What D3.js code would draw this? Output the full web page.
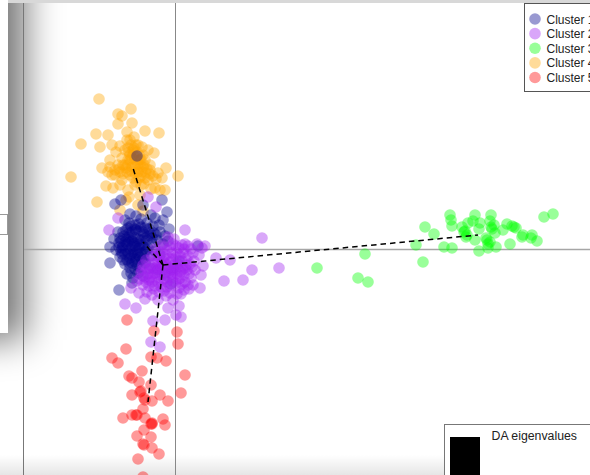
<!DOCTYPE html>
<html>
<head>
<meta charset="utf-8">
<script src="https://cdn.jsdelivr.net/npm/d3@7"></script>
<style>
  html, body { margin: 0; padding: 0; background: #fff; overflow: hidden; }
  text { font-family: "Liberation Sans", Arial, sans-serif; fill: #222; }
</style>
</head>
<body>
<div id="chart"></div>
<script>

// Scores, [ DA1, DA2 ]
var cluster1 = [
  [-6.0,4.5],[-5.4,4.9],[-1.3,4.9],[-0.8,3.7],[-3.2,4.4],[-3.8,9.3],[-6.5,-1.4],[-5.6,-4.1],[-6.5,0.2],
  [-5.0,2.9],[-4.5,3.5],[-4.0,2.4],[-4.7,2.1],[-3.4,3.0],[-2.8,2.6],[-2.0,3.1],[-1.6,2.4],[-5.7,1.7],
  [-6.1,1.0],[-5.6,0.6],[-5.1,1.3],[-4.6,1.6],[-4.1,1.2],[-3.6,1.8],[-3.1,1.5],[-2.6,2.0],[-2.1,1.6],
  [-1.5,1.7],[-1.0,1.3],[-0.6,2.0],[-5.9,-0.1],[-5.3,0.1],[-4.8,0.5],[-4.3,0.2],[-3.8,0.7],[-3.3,0.4],
  [-2.8,0.9],[-2.3,0.6],[-1.8,0.9],[-1.2,0.5],[-0.7,0.8],[-5.5,-0.8],[-5.0,-0.5],[-4.5,-0.9],[-4.0,-0.4],
  [-3.5,-0.8],[-3.0,-0.3],[-2.5,-0.7],[-2.0,-0.2],[-1.5,-0.6],[-5.0,-1.5],[-4.5,-1.9],[-4.0,-1.3],
  [-3.5,-1.8],[-3.0,-1.4],[-2.5,-1.9],[-4.8,-2.5],[-4.2,-2.9],[-3.7,-2.4],[-3.2,-2.7],[-4.3,-3.4],
  [-0.2,-2.0],[-1.0,-2.6],[0.4,-1.2],[-4.6,2.6],[-3.9,3.3],[-2.4,3.4],[-1.2,2.9],[-3.6,0.1],[-4.4,1.0],
  [-3.1,-0.9],[-2.7,0.1],[-5.4,-0.2],[-4.9,1.0],[-3.9,-1.0],[-1.7,-2.1],[-0.4,-3.5],[2.3,0.3],
  [-5.5,1.1],[-5.0,0.7],[-4.7,1.2],[-4.3,0.8],[-4.0,0.3],[-3.7,1.0],[-3.4,0.9],[-3.0,1.1],[-2.7,1.3],
  [-5.2,0.3],[-4.9,-0.1],[-4.5,0.0],[-4.2,-0.3],[-3.8,-0.1],[-3.4,-0.4],[-3.1,0.2],[-2.9,-0.1],
  [-5.2,1.7],[-4.9,1.9],[-4.3,1.7],[-3.9,1.9],[-3.4,2.2],[-3.0,2.1],[-4.6,0.7],[-4.1,0.6],[-3.5,0.5],
  [-4.7,-0.4],[-4.4,-0.6],[-4.1,-0.9],[-3.7,-0.6],[-3.3,-1.1],[-4.8,-1.1],[-4.3,-1.4],[-3.8,-1.6],
  [-5.3,-0.5],[-5.6,0.2],[-5.4,0.8],[-5.2,-1.1],[-4.6,-1.4],[-4.4,-2.4],[-4.0,-2.0],[-2.3,1.1],[-1.9,1.4],
  [-3.2,1.7],[-2.5,1.6],[-4.0,2.0],[-3.6,2.5],[-4.4,2.3],[-2.2,2.3]
];

var cluster2 = [
  [8.7,1.1],[10.4,-1.9],[7.7,-2.1],[6.8,-3.1],[4.9,-3.2],[4.1,-0.9],[5.5,-1.1],[2.7,0.1],[3.0,0.3],[2.8,-1.7],
  [2.5,-3.9],[1.8,-3.6],[-5.0,-5.5],[-3.9,-5.9],[-2.2,-7.2],[-1.0,-7.1],[-0.7,-5.9],[0.4,-5.7],[0.1,-6.6],
  [0.6,-6.8],[-2.4,-9.3],[-1.5,-9.8],[-6.6,1.9],[1.0,1.9],[-2.7,5.2],[-1.9,4.2],[-5.7,3.1],
  [-4.4,-3.9],[-3.6,-4.4],[-3.0,-5.0],[-2.3,-4.6],[-1.7,-5.1],[-0.9,-4.7],[-0.2,-5.1],[0.6,-4.5],[1.4,-4.0],
  [-3.8,-3.2],[-3.2,-3.6],[-2.6,-3.1],[-2.0,-3.7],[-1.4,-3.2],[-0.8,-3.8],[-0.2,-3.3],[0.4,-3.9],[1.0,-3.3],
  [-3.4,-2.4],[-2.8,-2.0],[-2.2,-2.5],[-1.6,-2.0],[-1.0,-2.4],[-0.4,-2.0],[0.2,-2.5],[0.8,-2.0],[1.4,-2.5],
  [2.0,-2.1],[-2.9,-1.1],[-2.3,-0.7],[-1.7,-1.2],[-1.1,-0.8],[-0.5,-1.3],[0.1,-0.8],[0.7,-1.2],[1.3,-0.7],
  [1.9,-1.2],[2.4,-0.6],[-2.0,0.0],[-1.4,0.4],[-0.8,-0.1],[-0.2,0.5],[0.4,0.1],[1.0,0.5],[1.6,0.0],
  [2.2,0.5],[-0.7,1.2],[-0.1,1.0],[-2.5,-1.6],[-1.9,-2.9],[-1.3,-1.6],[-0.7,-2.8],[-0.1,-1.6],[0.5,-2.9],
  [1.1,-1.6],[-2.8,-4.3],[-1.1,-4.2],[0.9,-4.1],[-1.5,-0.3],[-0.3,-0.4],[0.9,0.0],[-3.2,-1.6],[2.6,-2.6],
  [-3.0,-2.8],[-2.7,-2.5],[-2.4,-2.0],[-2.1,-1.4],[-1.8,-1.8],[-1.5,-2.6],[-1.2,-2.1],[-0.9,-1.5],[-0.6,-1.9],
  [-0.3,-2.5],[0.0,-2.1],[0.3,-1.5],[0.6,-1.8],[0.9,-2.6],[1.2,-2.1],[1.5,-1.5],[-2.6,-3.7],[-2.3,-3.3],
  [-2.0,-2.4],[-1.7,-3.3],[-1.4,-3.8],[-1.1,-3.0],[-0.8,-3.3],[-0.5,-3.7],[-0.2,-2.9],[0.1,-3.4],[0.4,-3.0],
  [0.7,-3.5],[-1.9,-0.7],[-1.6,-0.8],[-1.2,-1.2],[-0.9,-0.6],[-0.6,-0.9],[-0.2,-1.0],[0.2,-0.4],[0.5,-0.7],
  [0.8,-0.4],[1.1,-1.0],[-1.1,0.2],[-0.5,0.2],[0.1,0.3],[0.7,0.4],[1.3,0.3],[-1.8,-2.3],[-1.4,-1.5],[-1.0,-1.8],
  [-0.6,-2.4],[-0.2,-2.2],[0.2,-1.9],[0.6,-2.3],[1.0,-1.9],[-2.2,-1.9],[-2.5,-2.9],[-2.9,-3.3],[-3.3,-2.1],
  [-3.5,-3.0],[1.7,-1.8],[1.6,-2.9],[1.3,-3.6],[-1.6,-4.3],[-0.5,-4.4],[0.2,-4.5],[-2.1,-4.0],[1.8,-0.4]
];

var cluster3 = [
  [37.8,3.5],[36.9,3.2],[27.5,3.4],[27.6,2.9],[27.7,2.3],[25.0,2.2],[25.9,1.5],[30.0,3.4],[31.6,3.4],
  [29.8,2.8],[29.3,2.6],[28.7,2.2],[28.9,1.7],[29.1,1.2],[30.5,2.6],[30.4,2.0],[30.0,0.9],[31.5,2.8],
  [31.9,2.4],[31.7,2.0],[32.0,1.6],[32.8,1.9],[33.2,2.5],[33.7,2.3],[34.1,2.1],[34.7,1.2],[35.7,1.4],
  [35.6,1.1],[36.2,0.8],[33.5,0.5],[32.1,0.2],[31.3,0.1],[31.2,0.9],[31.3,0.5],[30.4,-0.2],[27.7,0.1],
  [26.9,0.2],[24.1,0.4],[24.8,-1.3],[19.0,-0.5],[14.2,-1.9],[18.3,-2.9],[19.3,-3.3],
  [31.1,1.1],[31.5,0.7],[29.0,1.8],[29.2,1.4],[31.6,2.2],[33.9,2.2],[34.8,1.4]
];

var cluster4 = [
  [-7.6,15.0],[-4.4,14.0],[-5.7,13.5],[-5.3,13.3],[-5.7,12.5],[-4.3,12.6],[-7.9,11.5],[-6.7,11.4],[-6.3,10.4],
  [-4.8,11.7],[-4.1,11.2],[-3.0,11.8],[-1.6,11.6],[-9.4,10.5],[-7.5,10.2],[-10.4,7.2],[-7.3,8.1],[-6.5,8.9],
  [-5.5,10.3],[-4.5,10.9],[-3.7,10.4],[-3.3,10.2],[-2.7,9.9],[-2.1,9.6],[-6.5,8.2],[-6.7,7.7],[-5.7,8.4],
  [-6.0,7.4],[-5.3,6.9],[-4.5,7.4],[-3.5,8.9],[-2.5,7.9],[-1.7,7.6],[-0.9,8.1],[-1.3,7.1],[0.3,7.3],
  [-6.9,6.3],[-6.2,6.1],[-5.5,6.4],[-4.7,5.9],[-3.7,7.7],[-3.0,7.1],[-2.0,6.1],[-1.5,5.9],[-1.0,5.9],
  [-7.8,4.7],[-5.5,3.9],[-3.5,5.4],[-3.7,4.4],[-5.0,9.9],[-4.5,9.4],[-4.0,8.9],[-3.5,8.4],[-5.0,8.4],
  [-4.7,8.9],[-4.2,9.9],[-5.3,9.1],[-3.0,8.9],[-2.5,8.4],[-4.8,7.7],[-3.9,6.7],[-2.7,6.9],[-5.5,7.7],
  [-5.9,9.7],[-4.8,10.9],[-3.8,9.7],[-4.3,8.2],[-3.3,7.7],[-2.2,7.3],[-4.7,10.1],[-3.9,10.4],[-5.2,8.4],
  [-4.2,7.1],[-3.1,6.5],[-4.6,5.2],[-3.2,3.8],[-4.9,4.9],[-4.3,9.1],[-3.6,7.1],
  [-4.4,10.4],[-4.1,10.1],[-3.6,9.4],[-4.6,9.7],[-4.2,9.4],[-3.9,9.2],[-3.4,9.0],[-3.1,8.4],[-2.8,8.0],
  [-3.7,8.5],[-4.0,8.2],[-3.6,8.0],[-3.2,8.2],[-2.9,7.6],[-2.5,7.5],[-4.7,8.4],[-4.4,7.8],[-4.0,7.6],
  [-3.4,7.3],[-5.2,7.5],[-4.9,8.1],[-5.6,8.0],[-6.0,7.9],[-6.3,7.4],[-4.0,6.4],[-3.4,6.4],[-2.4,6.0],
  [-1.9,7.0],[-4.5,8.9],[-3.2,9.4]
];

var cluster5 = [
  [-4.8,-7.1],[-2.1,-8.2],[0.2,-8.3],[0.3,-9.5],[-4.9,-10.0],[-6.3,-10.9],[-5.7,-11.4],[-2.4,-10.8],[-1.8,-10.9],
  [-0.9,-11.2],[-3.3,-12.2],[-4.6,-12.7],[-4.3,-12.9],[-3.6,-13.3],[1.0,-12.6],[0.6,-14.4],[-2.4,-13.6],
  [-3.4,-14.2],[-3.5,-14.3],[-4.3,-14.6],[-1.5,-14.6],[-0.7,-15.2],[-3.1,-14.9],[-3.0,-15.1],[-2.3,-15.2],[-3.2,-16.0],[-5.2,-16.9],
  [-4.3,-16.6],[-3.9,-16.6],[-3.8,-16.6],[-3.0,-16.9],[-1.2,-17.0],[-1.0,-17.6],[-2.3,-17.5],[-2.4,-17.5],[-2.3,-17.4],
  [-3.1,-18.1],[-2.4,-18.8],[-3.8,-18.7],[-3.2,-19.5],[-3.1,-19.6],[-2.3,-19.9],[-1.6,-20.5],[-3.7,-21.0],[-3.2,-22.8]
];

var legendLabels = [ "Cluster 1", "Cluster 2", "Cluster 3", "Cluster 4", "Cluster 5" ];
var clusterColors = [ "#00008b", "#a020f0", "#00ff00", "#ffa500", "#ff0000" ];

// Centroids joined by the dashed minimum spanning tree
var centroids = [ [-3.2,0.7], [-1.2,-1.6], [30.3,1.4], [-4.2,8.1], [-2.7,-15.3] ];
var treeEdges = [ [1,0], [1,2], [1,3], [1,4] ];

var eigenvalues = [ 100 ];

var width = 590, height = 475;

var x = d3.scaleLinear().domain( [ -15.2, 41.5 ] ).range( [ 23, 590 ] );
var y = d3.scaleLinear().domain( [ 24.9, -22.6 ] ).range( [ 0, 475 ] );

var svg = d3.select( "#chart" ).append( "svg" )
  .attr( "width", width )
  .attr( "height", height )
  .style( "display", "block" );

var defs = svg.append( "defs" );

defs.append( "filter" )
    .attr( "id", "shadow" )
    .attr( "x", "-100%" ).attr( "y", "-100%" )
    .attr( "width", "300%" ).attr( "height", "300%" )
  .append( "feGaussianBlur" )
    .attr( "stdDeviation", 18 );

defs.append( "filter" )
    .attr( "id", "soft" )
    .attr( "filterUnits", "userSpaceOnUse" )
    .attr( "x", 0 ).attr( "y", 0 )
    .attr( "width", width ).attr( "height", height )
  .append( "feGaussianBlur" )
    .attr( "stdDeviation", 0.45 );

var bottomFade = defs.append( "linearGradient" )
  .attr( "id", "bottomFade" )
  .attr( "x1", 0 ).attr( "y1", 0 ).attr( "x2", 0 ).attr( "y2", 1 );
bottomFade.append( "stop" ).attr( "offset", 0 ).attr( "stop-color", "#000" ).attr( "stop-opacity", 0 );
bottomFade.append( "stop" ).attr( "offset", 1 ).attr( "stop-color", "#000" ).attr( "stop-opacity", 0.1 );

// Drawing window shadows behind the plot

svg.append( "rect" )
  .attr( "x", -120 ).attr( "y", -120 )
  .attr( "width", 145 ).attr( "height", 460 )
  .attr( "fill", "#000" )
  .attr( "fill-opacity", 0.55 )
  .attr( "filter", "url(#shadow)" );

svg.append( "rect" )
  .attr( "x", 0 ).attr( "y", 455 )
  .attr( "width", width ).attr( "height", 20 )
  .attr( "fill", "url(#bottomFade)" );

svg.append( "rect" )
  .attr( "x", 0 ).attr( "y", 0 )
  .attr( "width", 8 ).attr( "height", 333 )
  .attr( "fill", "#fff" );

svg.append( "rect" )
  .attr( "x", -5 ).attr( "y", 214.5 )
  .attr( "width", 12.5 ).attr( "height", 20 )
  .attr( "fill", "#fff" )
  .attr( "stroke", "#999" );

svg.append( "rect" )
  .attr( "x", 8 ).attr( "y", 0 )
  .attr( "width", width ).attr( "height", 3 )
  .attr( "fill", "#d8d8d8" );

// Drawing axes

svg.append( "line" )
  .attr( "x1", 23.5 ).attr( "x2", 23.5 )
  .attr( "y1", 3 ).attr( "y2", height )
  .attr( "stroke", "#777" );

svg.append( "line" )
  .attr( "x1", x( 0 ) + 0.5 ).attr( "x2", x( 0 ) + 0.5 )
  .attr( "y1", 3 ).attr( "y2", height )
  .attr( "stroke", "#888" );

svg.append( "line" )
  .attr( "x1", 24 ).attr( "x2", width )
  .attr( "y1", y( 0 ) + 0.5 ).attr( "y2", y( 0 ) + 0.5 )
  .attr( "stroke", "#a6a6a6" )
  .attr( "stroke-width", 1.5 );

// Drawing points, same stacking as the picture

var drawOrder = [
  [ cluster4, 3 ],
  [ cluster5, 4 ],
  [ cluster3, 2 ],
  [ cluster1, 0 ],
  [ cluster2, 1 ]
];

var points = svg.append( "g" ).attr( "filter", "url(#soft)" );

drawOrder.forEach( function( d ) {

  points.append( "g" ).selectAll( "circle" )
    .data( d[ 0 ] )
    .enter().append( "circle" )
      .attr( "cx", p => x( p[ 0 ] ) )
      .attr( "cy", p => y( p[ 1 ] ) )
      .attr( "r", 5.8 )
      .attr( "fill", clusterColors[ d[ 1 ] ] )
      .attr( "fill-opacity", 0.4 );

} );

// Drawing tree

svg.append( "g" ).selectAll( "line" )
  .data( treeEdges )
  .enter().append( "line" )
    .attr( "x1", e => x( centroids[ e[ 0 ] ][ 0 ] ) )
    .attr( "y1", e => y( centroids[ e[ 0 ] ][ 1 ] ) )
    .attr( "x2", e => x( centroids[ e[ 1 ] ][ 0 ] ) )
    .attr( "y2", e => y( centroids[ e[ 1 ] ][ 1 ] ) )
    .attr( "stroke", "#000" )
    .attr( "stroke-width", 1.5 )
    .attr( "stroke-dasharray", "5.5 4" );

// Drawing legend

var legend = svg.append( "g" );

legend.append( "rect" )
  .attr( "x", 524.5 ).attr( "y", 3.5 )
  .attr( "width", 80 ).attr( "height", 88 )
  .attr( "fill", "#fff" )
  .attr( "stroke", "#555" );

var legendY = d3.scalePoint().domain( legendLabels ).range( [ 19, 77.5 ] );

legend.selectAll( "circle" )
  .data( legendLabels )
  .enter().append( "circle" )
    .attr( "cx", 535 )
    .attr( "cy", d => legendY( d ) )
    .attr( "r", 5.8 )
    .attr( "fill", ( d, i ) => clusterColors[ i ] )
    .attr( "fill-opacity", 0.4 );

legend.selectAll( "text" )
  .data( legendLabels )
  .enter().append( "text" )
    .attr( "x", 546.5 )
    .attr( "y", d => legendY( d ) + 4.5 )
    .style( "font-size", "12px" )
    .text( d => d );

// Drawing eigenvalues inset

var inset = svg.append( "g" );

inset.append( "rect" )
  .attr( "x", 444.5 ).attr( "y", 424.5 )
  .attr( "width", 170 ).attr( "height", 70 )
  .attr( "fill", "#fff" )
  .attr( "stroke", "#777" );

var eigenY = d3.scaleLinear().domain( [ 0, 100 ] ).range( [ 475, 437 ] );

inset.selectAll( "rect.eigenBar" )
  .data( eigenvalues )
  .enter().append( "rect" )
    .attr( "class", "eigenBar" )
    .attr( "x", 450 )
    .attr( "y", d => eigenY( d ) )
    .attr( "width", 30 )
    .attr( "height", d => eigenY( 0 ) - eigenY( d ) )
    .attr( "fill", "#000" );

inset.append( "text" )
  .attr( "x", 491.5 ).attr( "y", 440 )
  .style( "font-size", "12.3px" )
  .text( "DA eigenvalues" );

</script>
</body>
</html>
